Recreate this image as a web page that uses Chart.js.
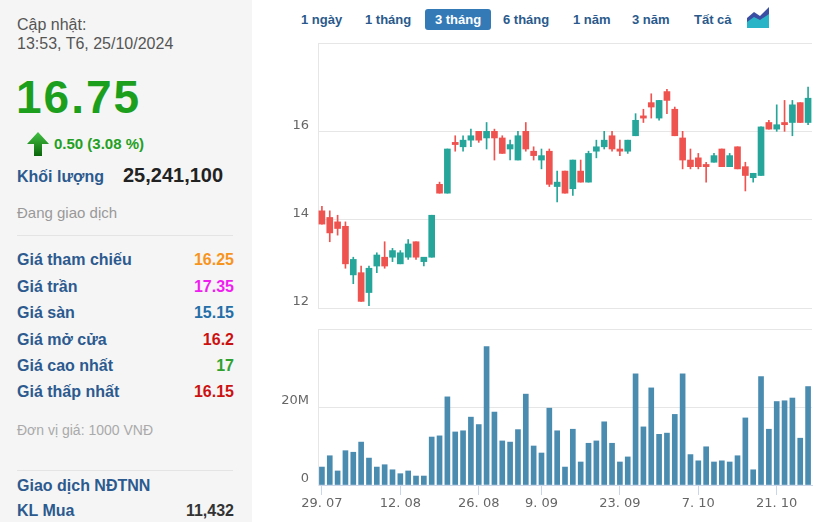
<!DOCTYPE html>
<html>
<head>
<meta charset="utf-8">
<script src="https://cdn.jsdelivr.net/npm/chart.js@4.4.1/dist/chart.umd.min.js"></script>
<style>
body{margin:0;width:834px;height:522px;overflow:hidden;background:#fff;font-family:Arial,"Liberation Sans",sans-serif;position:relative}
#side{position:absolute;left:0;top:0;width:252px;height:522px;background:#f5f5f5}
.t{position:absolute;white-space:nowrap}
.upd{font-size:16px;line-height:16px;color:#555;left:17px}
.lbl{font-size:16px;line-height:16px;font-weight:bold;color:#2c5a8f;left:17px}
.val{font-size:16px;line-height:16px;font-weight:bold;right:18px;text-align:right}
.sep{position:absolute;left:17px;width:216px;height:1px;background:#e4e4e4}
.tab{position:absolute;top:9px;height:21px;line-height:21px;font-size:13px;font-weight:bold;color:#2a5a8c;white-space:nowrap}
.tab.on{background:#337ab7;color:#fff;border-radius:3px;text-align:center}
canvas{position:absolute}
</style>
</head>
<body>
<div id="side">
  <div class="t upd" style="top:17px">Cập nhật:</div>
  <div class="t upd" style="top:36px">13:53, T6, 25/10/2024</div>
  <div class="t" style="left:16px;top:74px;font-size:46px;line-height:46px;font-weight:bold;color:#1c9f1c;letter-spacing:2px">16.75</div>
  <svg class="t" style="left:27px;top:132px" width="22" height="24">
    <defs><linearGradient id="ga" x1="0" y1="0" x2="0" y2="1"><stop offset="0" stop-color="#44c244"/><stop offset="1" stop-color="#0a650a"/></linearGradient></defs>
    <polygon points="11,0 22,12 15,12 15,24 7,24 7,12 0,12" fill="url(#ga)"/>
  </svg>
  <div class="t" style="left:54px;top:136px;font-size:15px;line-height:15px;font-weight:bold;color:#23a023">0.50 (3.08 %)</div>
  <div class="t lbl" style="top:169px">Khối lượng</div>
  <div class="t" style="left:123px;top:165px;font-size:20px;line-height:20px;font-weight:bold;color:#222">25,241,100</div>
  <div class="t" style="left:17px;top:205px;font-size:15px;line-height:15px;color:#999">Đang giao dịch</div>
  <div class="sep" style="top:235px"></div>
  <div class="t lbl" style="top:252px">Giá tham chiếu</div><div class="t val" style="top:252px;color:#f7941d">16.25</div>
  <div class="t lbl" style="top:279px">Giá trần</div><div class="t val" style="top:279px;color:#f01df0">17.35</div>
  <div class="t lbl" style="top:305px">Giá sàn</div><div class="t val" style="top:305px;color:#246ea8">15.15</div>
  <div class="t lbl" style="top:332px">Giá mở cửa</div><div class="t val" style="top:332px;color:#cc1111">16.2</div>
  <div class="t lbl" style="top:358px">Giá cao nhất</div><div class="t val" style="top:358px;color:#2fa12f">17</div>
  <div class="t lbl" style="top:384px">Giá thấp nhất</div><div class="t val" style="top:384px;color:#cc1111">16.15</div>
  <div class="t" style="left:17px;top:423px;font-size:14px;line-height:14px;color:#aaa">Đơn vị giá: 1000 VNĐ</div>
  <div class="sep" style="top:470px"></div>
  <div class="t lbl" style="top:478px">Giao dịch NĐTNN</div>
  <div class="t lbl" style="top:503px">KL Mua</div><div class="t val" style="top:503px;color:#333">11,432</div>
</div>

<span class="tab" style="left:301px">1 ngày</span>
<span class="tab" style="left:365px">1 tháng</span>
<span class="tab on" style="left:425px;width:66px">3 tháng</span>
<span class="tab" style="left:503px">6 tháng</span>
<span class="tab" style="left:573px">1 năm</span>
<span class="tab" style="left:632px">3 năm</span>
<span class="tab" style="left:694px">Tất cả</span>
<svg class="t" style="left:747px;top:6px" width="22" height="22">
  <polygon points="0,22 0,12 7,6 13,10 22,1 22,22" fill="#3a4fa3"/>
  <polygon points="0,22 0,16 7,11 13,14 22,8 22,22" fill="#2ab4c8"/>
</svg>

<canvas id="priceChart" width="574" height="320" style="left:260px;top:0"></canvas>
<canvas id="volChart" width="574" height="202" style="left:260px;top:320px"></canvas>

<script>
const dates = ['29. 07','30. 07','31. 07','1. 08','2. 08','5. 08','6. 08','7. 08','8. 08','9. 08',
  '12. 08','13. 08','14. 08','15. 08','16. 08','19. 08','20. 08','21. 08','22. 08','23. 08',
  '26. 08','27. 08','28. 08','29. 08','30. 08','4. 09','5. 09','6. 09',
  '9. 09','10. 09','11. 09','12. 09','13. 09','16. 09','17. 09','18. 09','19. 09','20. 09',
  '23. 09','24. 09','25. 09','26. 09','27. 09','30. 09','1. 10','2. 10','3. 10','4. 10',
  '7. 10','8. 10','9. 10','10. 10','11. 10','14. 10','15. 10','16. 10','17. 10','18. 10',
  '21. 10','22. 10','23. 10','24. 10','25. 10'];
const tickDates = ['29. 07','12. 08','26. 08','9. 09','23. 09','7. 10','21. 10'];

const openP = [14.2,14.05,13.95,13.85,12.75,12.8,12.35,12.95,13.15,13.15,
  13.0,13.15,13.5,13.05,13.15,14.8,14.6,15.75,15.65,15.8,
  16.0,15.85,16.0,15.85,15.6,15.35,16.0,15.55,
  15.35,15.55,14.75,15.1,14.7,15.1,14.85,15.55,15.65,15.9,
  15.6,15.55,15.9,16.35,16.65,16.3,16.9,16.5,15.85,15.35,
  15.4,15.25,15.3,15.6,15.2,15.65,15.2,14.95,15.0,16.2,
  16.05,16.2,16.2,16.65,16.2];
const highP = [14.3,14.2,14.1,13.95,13.15,12.95,12.95,13.25,13.5,13.35,
  13.3,13.55,13.5,13.15,14.1,14.85,15.6,15.9,15.9,16.05,
  16.0,16.2,16.05,15.9,15.8,16.0,16.2,15.65,
  15.6,15.6,15.1,15.1,15.35,15.35,15.55,15.8,16.0,16.0,
  15.8,15.8,16.4,16.5,16.85,16.7,16.95,16.55,16.0,15.6,
  15.5,15.3,15.5,15.6,15.5,15.65,15.3,15.05,16.1,16.25,
  16.6,16.7,16.7,16.65,17.0];
const lowP = [13.9,13.5,13.65,12.9,12.55,12.15,12.05,12.8,12.9,13.05,
  13.0,13.1,13.1,12.95,13.15,14.6,14.6,15.55,15.55,15.65,
  15.75,15.6,15.35,15.5,15.35,15.35,15.55,15.35,
  15.15,14.75,14.4,14.6,14.55,14.85,14.85,15.4,15.6,15.55,
  15.45,15.5,15.9,16.2,16.3,16.25,16.4,15.9,15.15,15.15,
  15.15,14.85,15.3,15.2,15.2,15.15,14.65,14.85,15.0,16.05,
  16.0,16.0,15.9,16.2,16.15];
const closeP = [13.9,13.7,13.8,13.0,13.1,12.15,12.9,13.2,12.95,13.3,
  13.25,13.45,13.15,13.15,14.1,14.6,15.6,15.7,15.8,15.9,
  15.8,16.0,15.85,15.5,15.7,15.9,15.6,15.45,
  15.45,14.8,14.85,14.6,15.35,14.85,15.5,15.65,15.8,15.6,
  15.55,15.8,16.25,16.3,16.55,16.7,16.7,15.9,15.35,15.2,
  15.2,15.2,15.45,15.2,15.45,15.15,15.0,15.05,16.1,16.05,
  16.15,16.15,16.6,16.2,16.75];
const volume = [4600000,7500000,3600000,8800000,8400000,11000000,6900000,4600000,5200000,3900000,
  2900000,3600000,2300000,2300000,12300000,12600000,22600000,13600000,13900000,17400000,
  15500000,35500000,18700000,11300000,11000000,14200000,23300000,10000000,
  8200000,19700000,13900000,4600000,14300000,5900000,10700000,11300000,16200000,10700000,
  5900000,7200000,28500000,14900000,24900000,13000000,13300000,18100000,28500000,7800000,
  6200000,9800000,5900000,6200000,5900000,7500000,17200000,3900000,27800000,14300000,
  21400000,21600000,22300000,12000000,25241100];

const priceTicks = [12,14,16];
const volTickValues = [0,20000000];
const volTickLabels = ['0','20M'];

const UP = '#26a69a', DOWN = '#ef5350';
const candleColors = openP.map((o,i)=>closeP[i]>=o?UP:DOWN);
const gridColor = '#e6e6e6';
const tickFont = {family:'"DejaVu Sans"',size:13};

// y axis: labels pushed off the axis by an invisible tick mark, so tick padding stays 0
const yGrid = {color:gridColor,drawTicks:true,tickLength:9,tickColor:'rgba(0,0,0,0)'};

new Chart(document.getElementById('priceChart'),{
  type:'bar',
  data:{
    labels:dates,
    datasets:[
      {data:lowP.map((l,i)=>[l,highP[i]]),backgroundColor:candleColors,barThickness:1,grouped:false,order:2},
      {data:openP.map((o,i)=>[o,closeP[i]]),backgroundColor:candleColors,barThickness:6,grouped:false,order:1}
    ]
  },
  options:{
    responsive:false,animation:false,events:[],
    layout:{padding:{top:43,right:22,bottom:12,left:0}},
    plugins:{legend:{display:false},tooltip:{enabled:false}},
    scales:{
      x:{display:false,offset:true},
      y:{min:12,max:18,
        afterFit:s=>{s.width=58;},
        border:{display:true,color:gridColor},
        grid:yGrid,
        ticks:{stepSize:2,padding:0,labelOffset:-6,color:'#666',font:tickFont,
          callback:v=>priceTicks.includes(v)?String(v):''}}
    }
  }
});

new Chart(document.getElementById('volChart'),{
  type:'bar',
  data:{
    labels:dates,
    datasets:[{data:volume,backgroundColor:'#4a8bb0',barThickness:5}]
  },
  options:{
    responsive:false,animation:false,events:[],
    layout:{padding:{top:9,right:22,bottom:0,left:0}},
    plugins:{legend:{display:false},tooltip:{enabled:false}},
    scales:{
      x:{offset:true,
        afterFit:s=>{s.height=37;},
        border:{display:true,color:'#ccd6eb'},
        grid:{display:true,drawOnChartArea:false,offset:false,tickLength:10,
          tickColor:ctx=>tickDates.includes(dates[ctx.index])?'#ccd6eb':'rgba(0,0,0,0)'},
        ticks:{autoSkip:false,maxRotation:0,padding:1,color:'#666',font:tickFont,
          callback:(v,i)=>tickDates.includes(dates[i])?dates[i]:''}},
      y:{min:0,max:40000000,
        afterFit:s=>{s.width=58;},
        border:{display:true,color:gridColor},
        grid:yGrid,
        ticks:{stepSize:20000000,padding:0,labelOffset:-6,color:'#666',font:tickFont,
          callback:v=>{const k=volTickValues.indexOf(v);return k>=0?volTickLabels[k]:'';}}}
    }
  }
});
</script>
</body>
</html>
